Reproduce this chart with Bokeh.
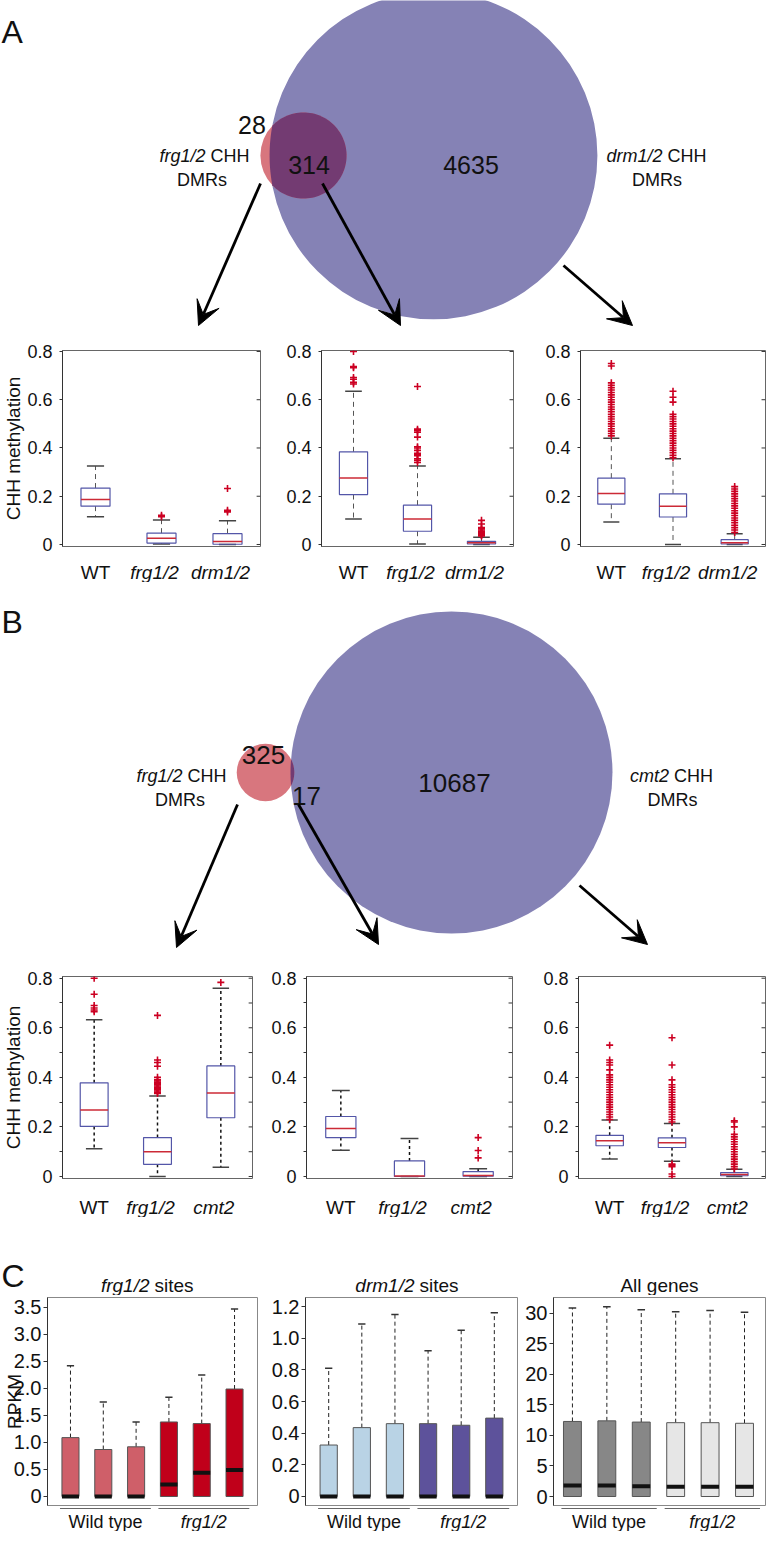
import numpy as np
from bokeh.plotting import figure
from bokeh.layouts import column, row
from bokeh.models import Range1d, FixedTicker, Arrow, VeeHead
from bokeh.embed import file_html
from bokeh.resources import INLINE
from bokeh.core.properties import value

FONT = "Liberation Sans"

# ---------------- data ----------------
venn_a_counts = [28, 314, 4635]      # frg1/2 only, overlap, drm1/2 only
venn_b_counts = [325, 17, 10687]     # frg1/2 only, overlap, cmt2 only

groups_a = ["WT", "frg1/2", "drm1/2"]
groups_b = ["WT", "frg1/2", "cmt2"]
italic_ab = [False, True, True]

meth_ticks = [0, 0.2, 0.4, 0.6, 0.8]
meth_tick_labels = ["0", "0.2", "0.4", "0.6", "0.8"]
meth_minor_b = [0.1, 0.3, 0.5, 0.7]

# A1: frg1/2-only DMRs
a1_lo = [0.115, 0.002, 0.0]
a1_q1 = [0.159, 0.006, 0.001]
a1_med = [0.187, 0.026, 0.012]
a1_q3 = [0.234, 0.047, 0.045]
a1_hi = [0.325, 0.102, 0.098]
a1_out = [[], [0.115, 0.121], [0.135, 0.142, 0.232]]

# A2: overlap DMRs
a2_lo = [0.106, 0.002, 0.0]
a2_q1 = [0.207, 0.055, 0.002]
a2_med = [0.276, 0.106, 0.007]
a2_q3 = [0.384, 0.163, 0.013]
a2_hi = [0.635, 0.325, 0.030]
a2_out = [[0.665, 0.672, 0.685, 0.692, 0.733, 0.737, 0.80],
          [0.34, 0.348, 0.355, 0.368, 0.372, 0.378, 0.39, 0.40, 0.405, 0.445,
           0.465, 0.472, 0.478, 0.655],
          [0.035, 0.038, 0.042, 0.045, 0.05, 0.055, 0.06, 0.065, 0.07, 0.085, 0.10]]

# A3: drm1/2-only DMRs
a3_lo = [0.093, 0.0, 0.0]
a3_q1 = [0.167, 0.114, 0.002]
a3_med = [0.211, 0.159, 0.007]
a3_q3 = [0.275, 0.210, 0.020]
a3_hi = [0.440, 0.355, 0.045]
a3_out = [[0.45, 0.46, 0.47, 0.48, 0.49, 0.50, 0.51, 0.52, 0.53, 0.54, 0.55, 0.56,
           0.57, 0.58, 0.59, 0.60, 0.61, 0.62, 0.63, 0.64, 0.65, 0.66, 0.67, 0.74, 0.75],
          [0.36, 0.37, 0.38, 0.39, 0.40, 0.41, 0.42, 0.43, 0.44, 0.45, 0.46, 0.47,
           0.48, 0.49, 0.50, 0.51, 0.52, 0.53, 0.54, 0.59, 0.61, 0.635],
          [0.05, 0.06, 0.07, 0.08, 0.09, 0.10, 0.11, 0.12, 0.13, 0.14, 0.15, 0.16,
           0.17, 0.18, 0.19, 0.20, 0.21, 0.22, 0.23, 0.24]]

# B1: frg1/2-only DMRs
b1_lo = [0.112, 0.0, 0.037]
b1_q1 = [0.202, 0.049, 0.237]
b1_med = [0.268, 0.100, 0.337]
b1_q3 = [0.378, 0.157, 0.446]
b1_hi = [0.632, 0.325, 0.759]
b1_out = [[0.665, 0.672, 0.68, 0.69, 0.735, 0.80],
          [0.335, 0.34, 0.345, 0.35, 0.355, 0.36, 0.365, 0.37, 0.375, 0.38, 0.385,
           0.39, 0.40, 0.445, 0.46, 0.47, 0.65],
          [0.783]]

# B2: overlap DMRs
b2_lo = [0.106, 0.0, 0.0]
b2_q1 = [0.157, 0.0, 0.001]
b2_med = [0.194, 0.002, 0.004]
b2_q3 = [0.242, 0.063, 0.020]
b2_hi = [0.347, 0.153, 0.031]
b2_out = [[], [], [0.075, 0.105, 0.157]]

# B3: cmt2-only DMRs
b3_lo = [0.071, 0.061, 0.0]
b3_q1 = [0.124, 0.117, 0.003]
b3_med = [0.144, 0.136, 0.008]
b3_q3 = [0.166, 0.156, 0.016]
b3_hi = [0.228, 0.214, 0.029]
b3_out = [[0.23, 0.24, 0.25, 0.26, 0.27, 0.28, 0.29, 0.30, 0.31, 0.32, 0.33, 0.34,
           0.35, 0.36, 0.37, 0.38, 0.39, 0.40, 0.41, 0.43, 0.45, 0.46, 0.47, 0.53],
          [0.0, 0.01, 0.04, 0.045, 0.05, 0.22, 0.23, 0.24, 0.25, 0.26, 0.27, 0.28,
           0.29, 0.30, 0.31, 0.32, 0.33, 0.34, 0.35, 0.36, 0.37, 0.39, 0.45, 0.56],
          [0.03, 0.04, 0.05, 0.06, 0.07, 0.08, 0.09, 0.10, 0.11, 0.12, 0.13, 0.14,
           0.15, 0.16, 0.17, 0.20, 0.22, 0.225]]

# C: RPKM expression boxplots (3 wild type + 3 frg1/2 replicates)
c_group_labels = ["Wild type", "frg1/2"]
c_group_italic = [False, True]
c_group_members = [[1, 2, 3], [4, 5, 6]]

c1_q1 = [0, 0, 0, 0, 0, 0]
c1_med = [0.0, 0.0, 0.0, 0.22, 0.44, 0.49]
c1_q3 = [1.09, 0.87, 0.92, 1.38, 1.35, 1.99]
c1_hi = [2.42, 1.75, 1.38, 1.84, 2.25, 3.47]
c1_ticks = [0, 0.5, 1.0, 1.5, 2.0, 2.5, 3.0, 3.5]
c1_tick_labels = ["0", "0.5", "1.0", "1.5", "2.0", "2.5", "3.0", "3.5"]

c2_q1 = [0, 0, 0, 0, 0, 0]
c2_med = [0.0, 0.0, 0.0, 0.0, 0.0, 0.0]
c2_q3 = [0.325, 0.435, 0.46, 0.46, 0.45, 0.495]
c2_hi = [0.81, 1.09, 1.15, 0.92, 1.05, 1.16]
c2_ticks = [0, 0.2, 0.4, 0.6, 0.8, 1.0, 1.2]
c2_tick_labels = ["0", "0.2", "0.4", "0.6", "0.8", "1.0", "1.2"]

c3_q1 = [0, 0, 0, 0, 0, 0]
c3_med = [1.8, 1.8, 1.7, 1.6, 1.6, 1.6]
c3_q3 = [12.3, 12.4, 12.2, 12.1, 12.1, 12.0]
c3_hi = [30.9, 31.1, 30.6, 30.3, 30.5, 30.2]
c3_ticks = [0, 5, 10, 15, 20, 25, 30]
c3_tick_labels = ["0", "5", "10", "15", "20", "25", "30"]

# ---------------- styles ----------------
BIG_COL = "#8582b5"
SMALL_COL = "#d8767e"
LENS_COL = "#733b72"
BOX_COL = "#5356a8"
MED_COL = "#cc2a36"
OUT_COL = "#cc0022"


def blank_fig(width, height, x_range, y_range, bl=0, br=0):
    p = figure(width=width, height=height, x_range=x_range, y_range=y_range,
               title=None, x_axis_location=None, y_axis_location=None, tools="",
               toolbar_location=None, output_backend="svg", min_border=0,
               min_border_left=bl, min_border_right=br, min_border_top=0,
               min_border_bottom=0, outline_line_color=None,
               background_fill_color="white", border_fill_color="white")
    p.grid.visible = False
    return p


def txt(p, x, y, s, size, italic=False, align="center", x_offset=0):
    p.text(x=[x], y=[y], text=[s], text_align=align, text_baseline="alphabetic",
           text_font=value(FONT), text_font_size=size, text_color="#111111",
           text_font_style="italic" if italic else "normal", x_offset=x_offset)


def lens(bx, by, R, sx, sy, r, n=90):
    d = np.hypot(sx - bx, sy - by)
    a = (d * d + R * R - r * r) / (2 * d)
    alpha = np.arccos(np.clip(a / R, -1, 1))
    phi = np.arctan2(sy - by, sx - bx)
    t1 = np.linspace(phi - alpha, phi + alpha, n)
    xb = bx + R * np.cos(t1)
    yb = by + R * np.sin(t1)
    psi_back = np.arctan2(by - sy, bx - sx)
    psi_e = np.arctan2(yb[-1] - sy, xb[-1] - sx)
    diff = (psi_e - psi_back + np.pi) % (2 * np.pi) - np.pi
    t2 = np.linspace(psi_back + diff, psi_back - diff, n)
    xs_ = sx + r * np.cos(t2)
    ys_ = sy + r * np.sin(t2)
    return list(np.concatenate([xb, xs_])), list(np.concatenate([yb, ys_]))


def venn(top, bottom, counts, scale, small_c, big_c, letter, letter_pos):
    p = blank_fig(767, bottom - top, Range1d(8, 775), Range1d(bottom, top))
    R = scale * np.sqrt(counts[1] + counts[2])
    r = scale * np.sqrt(counts[0] + counts[1])
    p.circle(x=[big_c[0]], y=[big_c[1]], radius=R, fill_color=BIG_COL, line_color=None)
    p.circle(x=[small_c[0]], y=[small_c[1]], radius=r, fill_color=SMALL_COL, line_color=None)
    lx, ly = lens(big_c[0], big_c[1], R, small_c[0], small_c[1], r)
    p.patch(lx, ly, fill_color=LENS_COL, line_color=None)
    txt(p, letter_pos[0], letter_pos[1], letter, "32px", align="left")
    return p


def add_arrow(p, x0, y0, x1, y1):
    p.add_layout(Arrow(end=VeeHead(size=24, fill_color="black", line_color="black"),
                       x_start=x0, y_start=y0, x_end=x1, y_end=y1,
                       line_width=2.8, line_color="black"))


def left_axis_style(ax, ticks, labels, minor, size, tick_out, standoff):
    ax.ticker = FixedTicker(ticks=ticks, minor_ticks=minor)
    ax.major_label_overrides = {t: l for t, l in zip(ticks, labels)}
    ax.major_label_text_font = FONT
    ax.major_label_text_font_size = size
    ax.major_label_text_color = "#111111"
    ax.major_label_standoff = standoff
    ax.major_tick_out = tick_out
    ax.major_tick_in = 0
    ax.minor_tick_out = tick_out
    ax.minor_tick_in = 0
    ax.axis_line_color = "#333333"
    ax.major_tick_line_color = "#333333"
    ax.minor_tick_line_color = "#333333"


def meth_panel(width, height, bl, br, bt, bb, yr, lo, q1, med, q3, hi, out,
               minor, dense_style, ylabel=None):
    xr = Range1d(0.5, 3.5)
    p = figure(width=width, height=height, x_range=xr, y_range=yr, title=None,
               x_axis_location=None, tools="", toolbar_location=None,
               output_backend="svg", min_border_left=bl, min_border_right=br,
               min_border_top=bt, min_border_bottom=bb,
               background_fill_color="white", border_fill_color="white")
    p.grid.visible = False
    p.outline_line_color = "#666666"
    left_axis_style(p.yaxis[0], meth_ticks, meth_tick_labels, minor, "18px", 3, 7)
    if ylabel:
        p.yaxis.axis_label = ylabel
        p.yaxis.axis_label_text_font = FONT
        p.yaxis.axis_label_text_font_size = "19px"
        p.yaxis.axis_label_text_font_style = "normal"
        p.yaxis.axis_label_text_color = "#111111"
        p.yaxis.axis_label_standoff = 0
    # inward ticks on the right-hand frame edge
    frame_w = width - bl - br
    dx = 4.0 * (xr.end - xr.start) / frame_w
    rt = list(meth_ticks) + list(minor)
    p.segment(x0=[xr.end - dx] * len(rt), y0=rt, x1=[xr.end] * len(rt), y1=rt,
              line_color="#333333", line_width=1)
    xs = np.arange(1, len(med) + 1, dtype=float)
    bw, cw = 0.44, 0.13
    wdash, wcol, wwid = dense_style
    p.segment(x0=xs, y0=q3, x1=xs, y1=hi, line_color=wcol, line_dash=wdash, line_width=wwid)
    p.segment(x0=xs, y0=q1, x1=xs, y1=lo, line_color=wcol, line_dash=wdash, line_width=wwid)
    p.segment(x0=xs - cw, y0=hi, x1=xs + cw, y1=hi, line_color="#444444", line_width=1.5)
    p.segment(x0=xs - cw, y0=lo, x1=xs + cw, y1=lo, line_color="#444444", line_width=1.5)
    p.vbar(x=xs, width=bw, bottom=q1, top=q3, fill_color=None, line_color=BOX_COL, line_width=1.2)
    p.segment(x0=xs - bw / 2, y0=med, x1=xs + bw / 2, y1=med, line_color=MED_COL, line_width=1.5)
    ox, oy = [], []
    for i, vals in enumerate(out):
        ox += [xs[i]] * len(vals)
        oy += list(vals)
    p.scatter(x=ox, y=oy, marker="cross", size=7, line_color=OUT_COL, line_width=1.6)
    return p, xr


def meth_labels(width, bl, br, xr, top, bottom, groups, baseline):
    s = blank_fig(width, bottom - top, xr, Range1d(bottom, top), bl, br)
    for i, (g, it) in enumerate(zip(groups, italic_ab)):
        txt(s, i + 1, baseline, g, "19px", italic=it, x_offset=-7 if it else 0)
    return s


def rpkm_panel(width, bl, br, xr, yr, q1, med, q3, hi, colors, ticks, labels, ylabel=None):
    p = figure(width=width, height=211, x_range=xr, y_range=yr, title=None,
               x_axis_location=None, tools="", toolbar_location=None,
               output_backend="svg", min_border_left=bl, min_border_right=br,
               min_border_top=2, min_border_bottom=1,
               background_fill_color="white", border_fill_color="white")
    p.grid.visible = False
    p.outline_line_color = "#888888"
    left_axis_style(p.yaxis[0], ticks, labels, [], "20px", 4, 2)
    if ylabel:
        p.yaxis.axis_label = ylabel
        p.yaxis.axis_label_text_font = FONT
        p.yaxis.axis_label_text_font_size = "19px"
        p.yaxis.axis_label_text_font_style = "normal"
        p.yaxis.axis_label_text_color = "#111111"
        p.yaxis.axis_label_standoff = -14
    xs = np.arange(1, len(med) + 1, dtype=float)
    bw, cw = 0.52, 0.11
    p.segment(x0=xs, y0=q3, x1=xs, y1=hi, line_color="#222222", line_dash="4 3", line_width=1)
    p.segment(x0=xs - cw, y0=hi, x1=xs + cw, y1=hi, line_color="#333333", line_width=1.5)
    p.vbar(x=xs, width=bw, bottom=q1, top=q3, fill_color=colors, line_color="#555555", line_width=1)
    p.segment(x0=xs - bw / 2, y0=med, x1=xs + bw / 2, y1=med, line_color="#111111", line_width=4)
    return p


def group_strip(width, bl, br, xr):
    s = blank_fig(width, 25, xr, Range1d(1539, 1514), bl, br)
    for lab, it, mem in zip(c_group_labels, c_group_italic, c_group_members):
        x0, x1 = mem[0] - 0.32, mem[-1] + 0.45
        s.segment(x0=[x0], y0=[1516], x1=[x1], y1=[1516], line_color="#666666", line_width=1)
        txt(s, (x0 + x1) / 2, 1529, lab, "18px", italic=it)
    return s


# ---------------- Venn A ----------------
vA = venn(8, 340, venn_a_counts, 2.33, (311, 163), (441, 163), "A", (9, 39))
txt(vA, 259.5, 132, str(venn_a_counts[0]), "25px")
txt(vA, 316.5, 172, str(venn_a_counts[1]), "25px")
txt(vA, 478.5, 172, str(venn_a_counts[2]), "25px")
txt(vA, 213, 163, "frg1/2", "18px", italic=True, align="right")
txt(vA, 218, 163, "CHH", "18px", align="left")
txt(vA, 209.5, 187, "DMRs", "18px")
txt(vA, 670, 163, "drm1/2", "18px", italic=True, align="right")
txt(vA, 675, 163, "CHH", "18px", align="left")
txt(vA, 664.5, 187, "DMRs", "18px")
add_arrow(vA, 268, 191, 206, 333)
add_arrow(vA, 330, 191, 408, 333)
add_arrow(vA, 571, 273, 640, 333)

# ---------------- Row A ----------------
yrA = Range1d(-0.0083, 0.804)
dashA = ("5 4", "#555555", 1)
pA1, xA1 = meth_panel(283, 222, 55, 23, 18, 8, yrA, a1_lo, a1_q1, a1_med, a1_q3, a1_hi, a1_out, [], dashA, "CHH methylation")
pA2, xA2 = meth_panel(259, 222, 36, 29, 18, 8, yrA, a2_lo, a2_q1, a2_med, a2_q3, a2_hi, a2_out, [], dashA)
pA3, xA3 = meth_panel(225, 222, 36, 2, 18, 8, yrA, a3_lo, a3_q1, a3_med, a3_q3, a3_hi, a3_out, [], dashA)
lA1 = meth_labels(283, 55, 23, xA1, 562, 590, groups_a, 580)
lA2 = meth_labels(259, 36, 29, xA2, 562, 590, groups_a, 580)
lA3 = meth_labels(225, 36, 2, xA3, 562, 590, groups_a, 580)

# ---------------- Venn B ----------------
vB = venn(590, 975, venn_b_counts, 1.556, (273, 780), (459, 780), "B", (9, 629))
txt(vB, 271, 762, str(venn_b_counts[0]), "26px")
txt(vB, 314, 803, str(venn_b_counts[1]), "26px")
txt(vB, 462, 790, str(venn_b_counts[2]), "26px")
txt(vB, 190, 783, "frg1/2", "18px", italic=True, align="right")
txt(vB, 195, 783, "CHH", "18px", align="left")
txt(vB, 187.5, 807, "DMRs", "18px")
txt(vB, 676.5, 783, "cmt2", "18px", italic=True, align="right")
txt(vB, 681.5, 783, "CHH", "18px", align="left")
txt(vB, 680, 807, "DMRs", "18px")
add_arrow(vB, 245, 812, 184, 955)
add_arrow(vB, 306, 812, 386, 952)
add_arrow(vB, 587, 893, 655, 952)

# ---------------- Row B ----------------
yrB = Range1d(-0.0081, 0.8069)
dashB = ("3 3", "#111111", 1.5)
pB1, xB1 = meth_panel(268, 222, 55, 16, 9, 11, yrB, b1_lo, b1_q1, b1_med, b1_q3, b1_hi, b1_out, meth_minor_b, dashB, "CHH methylation")
pB2, xB2 = meth_panel(272, 222, 36, 28, 9, 11, yrB, b2_lo, b2_q1, b2_med, b2_q3, b2_hi, b2_out, meth_minor_b, dashB)
pB3, xB3 = meth_panel(227, 222, 36, 2, 9, 11, yrB, b3_lo, b3_q1, b3_med, b3_q3, b3_hi, b3_out, meth_minor_b, dashB)
lB1 = meth_labels(268, 55, 16, xB1, 1197, 1225, groups_b, 1215)
lB2 = meth_labels(272, 36, 28, xB2, 1197, 1225, groups_b, 1215)
lB3 = meth_labels(227, 36, 2, xB3, 1197, 1225, groups_b, 1215)

# ---------------- C header ----------------
cH = blank_fig(767, 78, Range1d(8, 775), Range1d(1303, 1225))
txt(cH, 9, 1283, "C", "32px", align="left")
txt(cH, 157, 1293, "frg1/2", "19px", italic=True, align="right")
txt(cH, 162, 1293, "sites", "19px", align="left")
txt(cH, 422, 1293, "drm1/2", "19px", italic=True, align="right")
txt(cH, 427, 1293, "sites", "19px", align="left")
txt(cH, 667, 1293, "All genes", "19px")

# ---------------- Row C ----------------
c1_cols = ["#cf5f69"] * 3 + ["#c0001a"] * 3
c2_cols = ["#b9d3e5"] * 3 + ["#5d529b"] * 3
c3_cols = ["#878787"] * 3 + ["#e6e6e6"] * 3
xC1 = Range1d(0.3, 6.7)
xC2 = Range1d(0.3, 6.7)
xC3 = Range1d(0.45, 6.61)
pC1 = rpkm_panel(268, 42, 11, xC1, Range1d(-0.167, 3.685), c1_q1, c1_med, c1_q3, c1_hi, c1_cols, c1_ticks, c1_tick_labels, "RPKM")
pC2 = rpkm_panel(251, 34, 2, xC2, Range1d(-0.057, 1.257), c2_q1, c2_med, c2_q3, c2_hi, c2_cols, c2_ticks, c2_tick_labels)
pC3 = rpkm_panel(248, 34, 2, xC3, Range1d(-1.475, 32.62), c3_q1, c3_med, c3_q3, c3_hi, c3_cols, c3_ticks, c3_tick_labels)
gC1 = group_strip(268, 42, 11, xC1)
gC2 = group_strip(251, 34, 2, xC2)
gC3 = group_strip(248, 34, 2, xC3)

layout = column(
    vA,
    row(column(pA1, lA1), column(pA2, lA2), column(pA3, lA3)),
    vB,
    row(column(pB1, lB1), column(pB2, lB2), column(pB3, lB3)),
    cH,
    row(column(pC1, gC1), column(pC2, gC2), column(pC3, gC3)),
)

open("out.html", "w").write(file_html(layout, INLINE, title="CHH methylation figure"))
